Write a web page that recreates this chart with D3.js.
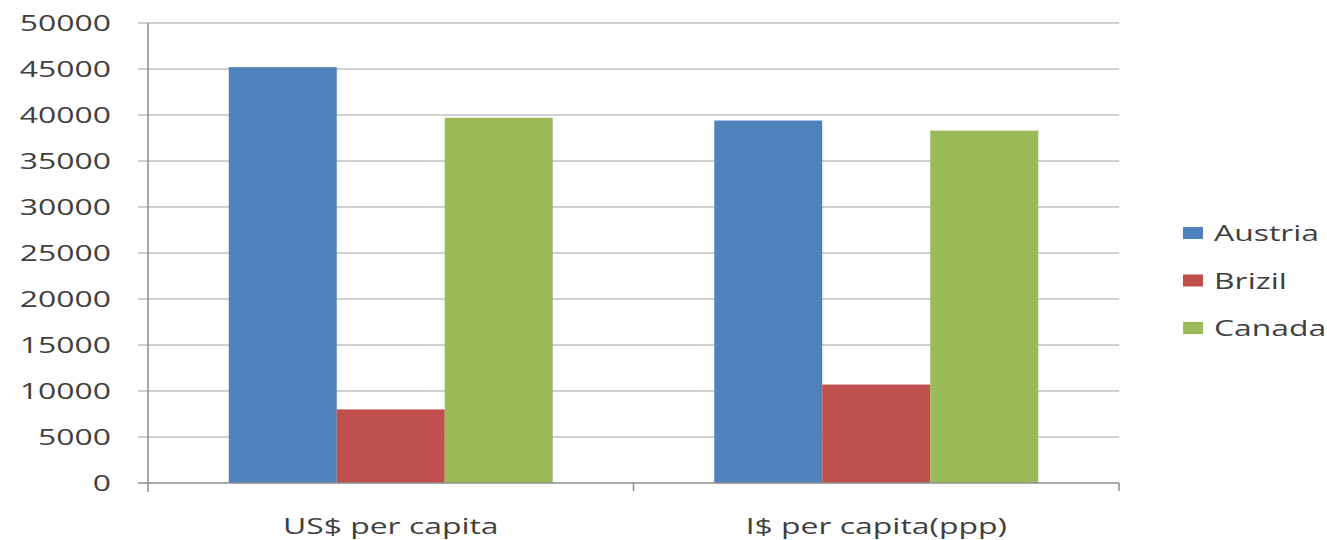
<!DOCTYPE html>
<html>
<head>
<meta charset="utf-8">
<script src="https://cdn.jsdelivr.net/npm/d3@7"></script>
<style>
  html, body { margin: 0; padding: 0; background: #fff; }
  svg { display: block; }
  text { font-family: "Open Sans", sans-serif; fill: #3f3f3f; }
</style>
</head>
<body>
<svg id="chart" width="1327" height="540"></svg>
<script>
// GDP per capita, two measures, three countries
const categories = ["US$ per capita", "I$ per capita(ppp)"];
const seriesNames = ["Austria", "Brizil", "Canada"];
const austria = [45200, 39400];
const brizil = [8000, 10700];
const canada = [39700, 38300];
const seriesColors = ["#4f81bd", "#c0504d", "#9bbb59"];
const yTicks = [0, 5000, 10000, 15000, 20000, 25000, 30000, 35000, 40000, 45000, 50000];

const seriesValues = [austria, brizil, canada];
const rows = categories.map((c, i) => ({
  category: c,
  values: seriesNames.map((s, j) => ({ series: s, value: seriesValues[j][i] }))
}));

const svg = d3.select("#chart");
const plot = { left: 148, right: 1119, top: 23, bottom: 483 };
const stretch = 1.45; // wide lettering used throughout the chart
const fontSize = 22;

const x0 = d3.scaleBand().domain(categories).range([plot.left, plot.right]).paddingInner(0).paddingOuter(0);
const groupPad = 80.75;
const x1 = d3.scaleBand().domain(seriesNames).range([groupPad, x0.bandwidth() - groupPad]).padding(0);
const y = d3.scaleLinear().domain([0, 50000]).range([plot.bottom, plot.top]);
const color = d3.scaleOrdinal().domain(seriesNames).range(seriesColors);

// stretched text helper
function label(g, str, x, yPos, anchor) {
  return g.append("text")
    .attr("transform", `translate(${x},${yPos}) scale(${stretch},1)`)
    .attr("text-anchor", anchor)
    .attr("font-size", fontSize)
    .text(str);
}

// horizontal gridlines
svg.append("g").selectAll("line").data(yTicks.filter(d => d > 0)).join("line")
  .attr("x1", plot.left - 10).attr("x2", plot.right)
  .attr("y1", d => y(d)).attr("y2", d => y(d))
  .attr("stroke", "#c0c0c0").attr("stroke-width", 1.6);

// bars
const groups = svg.append("g").selectAll("g").data(rows).join("g")
  .attr("transform", d => `translate(${x0(d.category)},0)`);
groups.selectAll("rect").data(d => d.values).join("rect")
  .attr("x", d => x1(d.series))
  .attr("width", x1.bandwidth())
  .attr("y", d => y(d.value))
  .attr("height", d => y(0) - y(d.value))
  .attr("fill", d => color(d.series));

// axes lines
const axisColor = "#8c8c8c";
svg.append("line").attr("x1", plot.left).attr("x2", plot.left)
  .attr("y1", plot.top).attr("y2", plot.bottom + 9)
  .attr("stroke", axisColor).attr("stroke-width", 1.5);
svg.append("line").attr("x1", plot.left - 10).attr("x2", plot.right)
  .attr("y1", plot.bottom).attr("y2", plot.bottom)
  .attr("stroke", axisColor).attr("stroke-width", 1.5);
// category boundary ticks
const catEdges = categories.map(c => x0(c) + x0.bandwidth());
svg.append("g").selectAll("line").data(catEdges).join("line")
  .attr("x1", d => d).attr("x2", d => d)
  .attr("y1", plot.bottom).attr("y2", plot.bottom + 8)
  .attr("stroke", axisColor).attr("stroke-width", 1.5);

// y tick labels
const yLab = svg.append("g");
yTicks.forEach(t => label(yLab, t, 111, y(t) + 8, "end"));

// category labels
const xLab = svg.append("g");
categories.forEach(c => label(xLab, c, x0(c) + x0.bandwidth() / 2, 534, "middle"));

// legend
const legend = svg.append("g");
seriesNames.forEach((s, i) => {
  const cy = 233 + i * 47.5;
  legend.append("rect").attr("x", 1183).attr("y", cy - 6).attr("width", 20).attr("height", 12)
    .attr("fill", color(s));
  label(legend, s, 1214, cy + 8, "start");
});
</script>
</body>
</html>
